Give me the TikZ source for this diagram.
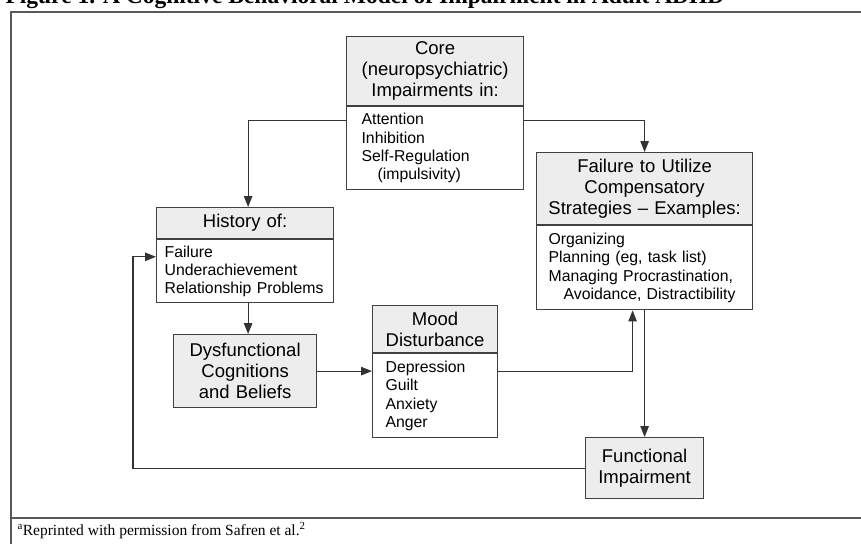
\documentclass[tikz,border=0pt]{standalone}
\usepackage{fontspec}
\setmainfont{Liberation Serif}
\newfontfamily\diagfont{Liberation Sans}
\usetikzlibrary{arrows.meta,positioning}

\newcommand\hdfont{\diagfont\fontsize{18.5}{21}\selectfont}
\newcommand\lsfont{\diagfont\fontsize{15.8}{18.3}\selectfont}
\newcommand\ttlfont{\bfseries\fontsize{23.5}{26}\selectfont}
\newcommand\fnfont{\fontsize{15.5}{18}\selectfont}

\tikzset{
    headbox/.style={draw=black!75, fill=black!7, line width=1.2pt, align=center,
      inner sep=0pt, anchor=north west, font=\hdfont},
    listbox/.style={draw=black!75, line width=1.2pt, align=left, inner ysep=0pt,
      font=\lsfont},
    link/.style={draw=black!80, line width=1.1pt, -{Triangle[length=11pt,width=8.5pt]}},
    frame/.style={draw=black!65, line width=1.4pt}
}

\begin{document}
\begin{tikzpicture}[x=1pt, y=-1pt]
    \useasboundingbox (0,0) rectangle (861,544);
    \clip (0,0) rectangle (861,544);

    \node[anchor=base west, font=\ttlfont] (title) at (2,3)
      {Figure 1. A Cognitive Behavioral Model of Impairment in Adult ADHD\textsuperscript{a}};
    \draw[frame] (11,544) -- (11,12) -- (861,12);
    \draw[frame] (11,518) -- (861,518);

    \node[headbox, minimum width=177pt, minimum height=69pt, text width=177pt] (core) at (346,36)
      {Core\\(neuropsychiatric)\\Impairments in:};
    \node[listbox, minimum width=177pt, minimum height=83pt, text width=147pt, inner xsep=15pt,
      below=0pt of core] (coreb)
      {Attention\\Inhibition\\Self-Regulation\\\hspace*{16pt}(impulsivity)};

    \node[headbox, minimum width=216pt, minimum height=72pt, text width=216pt] (fail) at (536,152)
      {Failure to Utilize\\Compensatory\\Strategies \textendash{} Examples:};
    \node[listbox, minimum width=216pt, minimum height=84pt, text width=192pt, inner xsep=12pt,
      below=0pt of fail] (failb)
      {Organizing\\Planning (eg, task list)\\Managing Procrastination,\\\hspace*{15pt}Avoidance, Distractibility};

    \node[headbox, minimum width=177pt, minimum height=31pt, text width=177pt] (hist) at (156,207)
      {History of:};
    \node[listbox, minimum width=177pt, minimum height=63pt, text width=161pt, inner xsep=8pt,
      below=0pt of hist] (histb)
      {Failure\\Underachievement\\Relationship Problems};

    \node[headbox, minimum width=143pt, minimum height=73pt, text width=143pt] (dysf) at (173,334)
      {Dysfunctional\\Cognitions\\and Beliefs};

    \node[headbox, minimum width=125pt, minimum height=47pt, text width=125pt] (mood) at (372,305)
      {Mood\\Disturbance};
    \node[listbox, minimum width=125pt, minimum height=84pt, text width=99pt, inner xsep=13pt,
      below=0pt of mood] (moodb)
      {Depression\\Guilt\\Anxiety\\Anger};

    \node[headbox, minimum width=118pt, minimum height=61pt, text width=118pt] (func) at (585,437)
      {Functional\\Impairment};

    \node[anchor=base west, font=\fnfont] (note) at (14,535)
      {\textsuperscript{a}Reprinted with permission from Safren et al.\textsuperscript{2}};

    \coordinate (loopx) at (133,0);
    \draw[link] ([yshift=-14pt]coreb.north west) -| ([xshift=3pt]hist.north);
    \draw[link] ([yshift=-14pt]coreb.north east) -| (fail.north);
    \draw[link] ([xshift=3pt]histb.south) -- ([xshift=3pt]histb.south |- dysf.north);
    \draw[link] (dysf.east) -- (dysf.east -| moodb.west);
    \draw[link] (dysf.east -| moodb.east) -| ([xshift=-12pt]failb.south);
    \draw[link] (failb.south) -- (func.north);
    \draw[link] (func.west) -- (func.west -| loopx) |- ([yshift=14.5pt]histb.west);
\end{tikzpicture}
\end{document}
